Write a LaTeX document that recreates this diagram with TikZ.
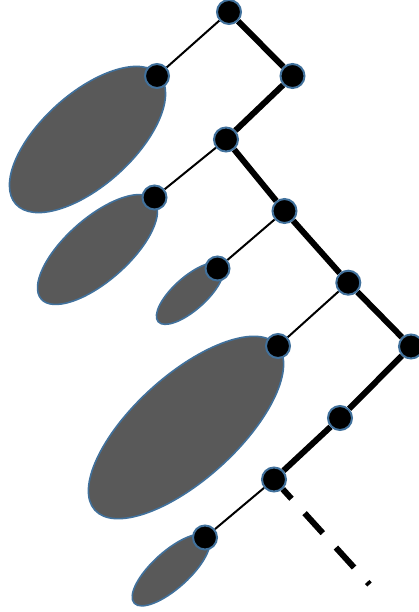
\documentclass[tikz,border=0pt]{standalone}
\usetikzlibrary{shapes.geometric,backgrounds}
\definecolor{blobfill}{HTML}{595959}
\definecolor{rimblue}{HTML}{41719C}
\begin{document}
\begin{tikzpicture}[x=1pt,y=-1pt,
 dot/.style={circle,fill=black,draw=rimblue,line width=2pt,minimum size=24pt,inner sep=0pt},
 blob/.style={ellipse,fill=blobfill,draw=rimblue,line width=1.6pt,inner sep=0pt,outer sep=0pt},
 heavy/.style={line width=6pt},
 light/.style={line width=2pt},
 trail/.style={line width=6pt,dash pattern=on 27pt off 19.5pt,dash phase=14pt}]
\useasboundingbox (0,0) rectangle (419,612);
% ellipses
\node[blob,minimum width=193pt,minimum height=92pt,rotate=42] (e1) at (87.5,139.5) {};
\node[blob,minimum width=150pt,minimum height=63pt,rotate=41.4] (e2) at (97.5,249.5) {};
\node[blob,minimum width=85pt,minimum height=33pt,rotate=41.7] (e3) at (190,293.5) {};
\node[blob,minimum width=246pt,minimum height=104pt,rotate=42.2] (e4) at (186,427.5) {};
\node[blob,minimum width=99pt,minimum height=37pt,rotate=42] (e5) at (171,570) {};
% dots
\node[dot] (A) at (229,12) {};
\node[dot] (B) at (292.5,76) {};
\node[dot] (C) at (157,76) {};
\node[dot] (D) at (226,139.5) {};
\node[dot] (E) at (154.5,197.5) {};
\node[dot] (F) at (284.5,211) {};
\node[dot] (G) at (217.5,268.5) {};
\node[dot] (H) at (348.3,282.7) {};
\node[dot] (I) at (278,346) {};
\node[dot] (J) at (411,346.5) {};
\node[dot] (K) at (340,418) {};
\node[dot] (L) at (274,479.5) {};
\node[dot] (M) at (205,537.5) {};
\coordinate (Z) at (369.5,584.5);
\begin{pgfonlayer}{background}
\draw[heavy] (A) -- (B);
\draw[heavy] (B) -- (D);
\draw[heavy] (D) -- (F);
\draw[heavy] (F) -- (H);
\draw[heavy] (H) -- (J);
\draw[heavy] (J) -- (K);
\draw[heavy] (K) -- (L);
\draw[trail] (L) -- (Z);
\draw[light] (A) -- (C);
\draw[light] (D) -- (E);
\draw[light] (F) -- (G);
\draw[light] (H) -- (I);
\draw[light] (L) -- (M);
\end{pgfonlayer}
\end{tikzpicture}
\end{document}
